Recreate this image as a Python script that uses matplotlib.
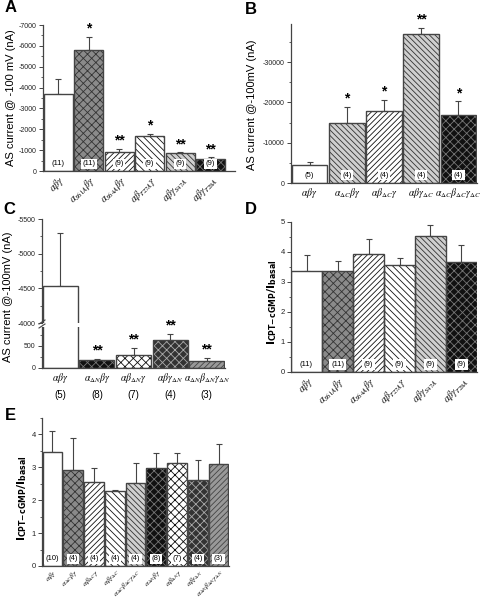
import numpy as np
import matplotlib
matplotlib.use("Agg")
import matplotlib.pyplot as plt
from matplotlib.ticker import MultipleLocator, FuncFormatter
from matplotlib.transforms import blended_transform_factory

plt.rcParams['font.family'] = ['Liberation Sans', 'DejaVu Sans']
plt.rcParams['mathtext.fontset'] = 'stix'
plt.rcParams['hatch.linewidth'] = 0.6

W, H = 480, 599

# ---- data ----
a_labels = [r'$\alpha\beta\gamma$', r'$\alpha_{S61A}\beta\gamma$', r'$\alpha_{S64A}\beta\gamma$',
            r'$\alpha\beta_{T27A}\gamma$', r'$\alpha\beta\gamma_{S47A}$', r'$\alpha\beta\gamma_{T28A}$']
a_vals = [3700, 5820, 900, 1680, 850, 580]
a_err = [4430, 6430, 1070, 1770, 890, 650]
a_n = ['(11)', '(11)', '(9)', '(9)', '(9)', '(9)']
a_sig = ['', '*', '**', '*', '**', '**']

b_labels = [r'$\alpha\beta\gamma$', r'$\alpha_{\Delta C}\beta\gamma$', r'$\alpha\beta_{\Delta C}\gamma$',
            r'$\alpha\beta\gamma_{\Delta C}$', r'$\alpha_{\Delta C}\beta_{\Delta C}\gamma_{\Delta C}$']
b_vals = [4500, 15000, 18000, 37000, 17000]
b_err = [5300, 19000, 20700, 38600, 20300]
b_n = ['(5)', '(4)', '(4)', '(4)', '(4)']
b_sig = ['', '*', '*', '**', '*']

c_labels = [r'$\alpha\beta\gamma$', r'$\alpha_{\Delta N}\beta\gamma$', r'$\alpha\beta_{\Delta N}\gamma$',
            r'$\alpha\beta\gamma_{\Delta N}$', r'$\alpha_{\Delta N}\beta_{\Delta N}\gamma_{\Delta N}$']
c_vals = [4540, 180, 300, 640, 160]
c_err = [5300, 200, 450, 770, 230]
c_n = ['(5)', '(8)', '(7)', '(4)', '(3)']
c_sig = ['', '**', '**', '**', '**']

d_vals = [3.38, 3.38, 3.92, 3.58, 4.53, 3.67]
d_err = [3.90, 3.70, 4.45, 3.80, 4.90, 4.22]
d_n = a_n

e_labels = [r'$\alpha\beta\gamma$', r'$\alpha_{\Delta C}\beta\gamma$', r'$\alpha\beta_{\Delta C}\gamma$',
            r'$\alpha\beta\gamma_{\Delta C}$', r'$\alpha_{\Delta C}\beta_{\Delta C}\gamma_{\Delta C}$',
            r'$\alpha_{\Delta N}\beta\gamma$', r'$\alpha\beta_{\Delta N}\gamma$',
            r'$\alpha\beta\gamma_{\Delta N}$', r'$\alpha_{\Delta N}\beta_{\Delta N}\gamma_{\Delta N}$']
e_vals = [3.48, 2.93, 2.55, 2.28, 2.52, 2.98, 3.12, 2.60, 3.10]
e_err = [4.10, 3.90, 2.98, 2.32, 3.12, 3.45, 3.45, 3.22, 3.70]
e_n = ['(10)', '(4)', '(4)', '(4)', '(4)', '(8)', '(7)', '(4)', '(3)']

# (facecolor, hatch colour, hatch)
WHITE = ('white', 'white', None)
GRAYX = ('#8a8a8a', '#333333', 'xxxx')
FWD = ('white', '#111111', '//////')
BACK = ('white', '#111111', '\\\\\\\\\\')
GRAYB = ('#cfcfcf', '#333333', '\\\\\\\\\\\\')
BLACKX = ('#111111', '#777777', 'xxxx')
CHECK = ('white', '#111111', 'xxxx')
DARKX = ('#333333', '#aaaaaa', 'xxxx')
GRAYF = ('#999999', '#444444', '//////')

a_style = [WHITE, GRAYX, FWD, BACK, GRAYB, BLACKX]
b_style = [WHITE, GRAYB, FWD, GRAYB, BLACKX]
c_style = [WHITE, BLACKX, CHECK, DARKX, GRAYF]
e_style = [WHITE, GRAYX, FWD, BACK, GRAYB, BLACKX, CHECK, DARKX, GRAYF]

ICPT = r'$\mathbf{I}_{\mathbf{CPT{-}cGMP}}\mathbf{/I}_{\mathbf{basal}}$'


def px(l, t, r, b):
    return [l / W, 1 - b / H, (r - l) / W, (b - t) / H]


def neg(v, pos):
    return '0' if v == 0 else '-%d' % v


def bars(ax, vals, errs, styles, width):
    x = np.arange(len(vals))
    for i, (v, s) in enumerate(zip(vals, styles)):
        ax.bar(x[i], v, width, color=s[0], edgecolor=s[1], hatch=s[2], linewidth=0, zorder=2)
    ax.bar(x, vals, width, fill=False, edgecolor='#444444', linewidth=1.0, zorder=3)
    up = np.array(errs) - np.array(vals)
    ax.errorbar(x, vals, yerr=[np.zeros(len(vals)), up], fmt='none', ecolor='#444444',
                elinewidth=0.8, capsize=2.5, capthick=0.8, zorder=1)
    return x


def style_ax(ax, fs=5):
    for s in ['top', 'right']:
        ax.spines[s].set_visible(False)
    for s in ['left', 'bottom']:
        ax.spines[s].set_color('#444444')
        ax.spines[s].set_linewidth(0.9)
    ax.tick_params(axis='y', labelsize=fs, length=3, width=0.7, pad=1.5,
                   colors='#444444', labelcolor='#222222')
    ax.tick_params(axis='y', which='minor', length=1.8, width=0.6, colors='#444444')
    ax.tick_params(axis='x', length=0, pad=2)


def nlabels(ax, x, ns, yfrac=0.05, fs=5.5):
    tr = blended_transform_factory(ax.transData, ax.transAxes)
    for xi, n in zip(x, ns):
        ax.text(xi, yfrac, n, transform=tr, ha='center', va='center', fontsize=fs, zorder=5,
                bbox=dict(boxstyle='square,pad=0.2', fc='white', ec='none'))


def stars(ax, x, errs, sig, off, fs=10):
    for xi, e, s in zip(x, errs, sig):
        if s:
            ax.text(xi, e + off, s, ha='center', va='bottom', fontsize=fs, fontweight='bold')


def ylab(xp, yp, s, fs=8, **kw):
    fig.text(xp / W, 1 - yp / H, s, fontsize=fs, rotation=90, ha='center', va='center', **kw)


fig = plt.figure(figsize=(W / 100, H / 100), dpi=100)

# ---- A ----
ax = fig.add_axes(px(43, 25, 235, 171))
x = bars(ax, a_vals, a_err, a_style, 0.95)
ax.set_xlim(-0.5, 5.8)
ax.set_ylim(0, 7000)
ax.yaxis.set_major_locator(MultipleLocator(1000))
ax.yaxis.set_minor_locator(MultipleLocator(500))
ax.yaxis.set_major_formatter(FuncFormatter(neg))
style_ax(ax)
ax.set_xticks(x)
ax.set_xticklabels(a_labels, rotation=45, ha='right', rotation_mode='anchor', fontsize=7)
ylab(11, 98, 'AS current @ -100 mV (nA)')
nlabels(ax, x, a_n)
stars(ax, x, a_err, a_sig, 60)
fig.text(5 / W, 1 - 12 / H, 'A', fontsize=12, fontweight='bold')

# ---- B ----
ax = fig.add_axes(px(291, 24, 477, 183))
x = bars(ax, b_vals, b_err, b_style, 0.96)
ax.set_xlim(-0.5, 4.5)
ax.set_ylim(0, 39500)
ax.yaxis.set_major_locator(MultipleLocator(10000))
ax.yaxis.set_minor_locator(MultipleLocator(5000))
ax.yaxis.set_major_formatter(FuncFormatter(neg))
style_ax(ax)
ax.set_xticks(x)
ax.set_xticklabels(b_labels, fontsize=7)
ylab(252, 105, 'AS current @-100mV (nA)')
nlabels(ax, x, b_n)
stars(ax, x, b_err, b_sig, 300)
fig.text(245 / W, 1 - 14 / H, 'B', fontsize=12, fontweight='bold')

# ---- C (broken axis) ----
axt = fig.add_axes(px(42, 219, 225, 323))
axb = fig.add_axes(px(42, 327, 225, 368))
for a in (axt, axb):
    bars(a, c_vals, c_err, c_style, 0.96)
    a.set_xlim(-0.5, 4.5)
    style_ax(a)
axt.set_ylim(4000, 5500)
axt.spines['bottom'].set_visible(False)
axt.set_xticks([])
axt.yaxis.set_major_locator(MultipleLocator(500))
axt.yaxis.set_minor_locator(MultipleLocator(250))
axt.yaxis.set_major_formatter(FuncFormatter(neg))
axb.set_ylim(0, 930)
axb.yaxis.set_major_locator(MultipleLocator(500))
axb.yaxis.set_minor_locator(MultipleLocator(250))
x = np.arange(len(c_vals))
axb.set_xticks(x)
axb.set_xticklabels([l + '\n' + n for l, n in zip(c_labels, c_n)], fontsize=7, linespacing=1.7)
stars(axb, x, c_err, c_sig, 40)
ylab(8, 297, 'AS current @-100mV (nA)')
# break marks
for yy in (322, 326):
    fig.add_artist(plt.Line2D([39 / W, 45 / W], [1 - (yy + 2) / H, 1 - (yy - 2) / H],
                              color='#444444', lw=0.8))
fig.text(3 / W, 1 - 214 / H, 'C', fontsize=12, fontweight='bold')

# ---- D ----
ax = fig.add_axes(px(291, 222, 477, 372))
x = bars(ax, d_vals, d_err, a_style, 1.0)
ax.set_xlim(-0.5, 5.5)
ax.set_ylim(0, 5)
ax.yaxis.set_major_locator(MultipleLocator(1))
ax.yaxis.set_minor_locator(MultipleLocator(0.5))
style_ax(ax, 5.5)
ax.set_xticks(x)
ax.set_xticklabels(a_labels, rotation=45, ha='right', rotation_mode='anchor', fontsize=7)
ylab(272, 302, ICPT, fs=8, math_fontfamily='dejavusans')
nlabels(ax, x, d_n)
fig.text(245 / W, 1 - 214 / H, 'D', fontsize=12, fontweight='bold')

# ---- E ----
ax = fig.add_axes(px(42, 418, 229, 566))
x = bars(ax, e_vals, e_err, e_style, 0.95)
ax.set_xlim(-0.5, 8.5)
ax.set_ylim(0, 4.5)
ax.yaxis.set_major_locator(MultipleLocator(1))
ax.yaxis.set_minor_locator(MultipleLocator(0.5))
style_ax(ax, 5.5)
ax.tick_params(axis='x', pad=1)
ax.set_xticks(x)
ax.set_xticklabels(e_labels, rotation=45, ha='right', rotation_mode='anchor', fontsize=5.2)
ylab(22, 498, ICPT, fs=8, math_fontfamily='dejavusans')
nlabels(ax, x, e_n, fs=5.5)
fig.text(5 / W, 1 - 420 / H, 'E', fontsize=12, fontweight='bold')

fig.savefig('out.png', dpi=100)
